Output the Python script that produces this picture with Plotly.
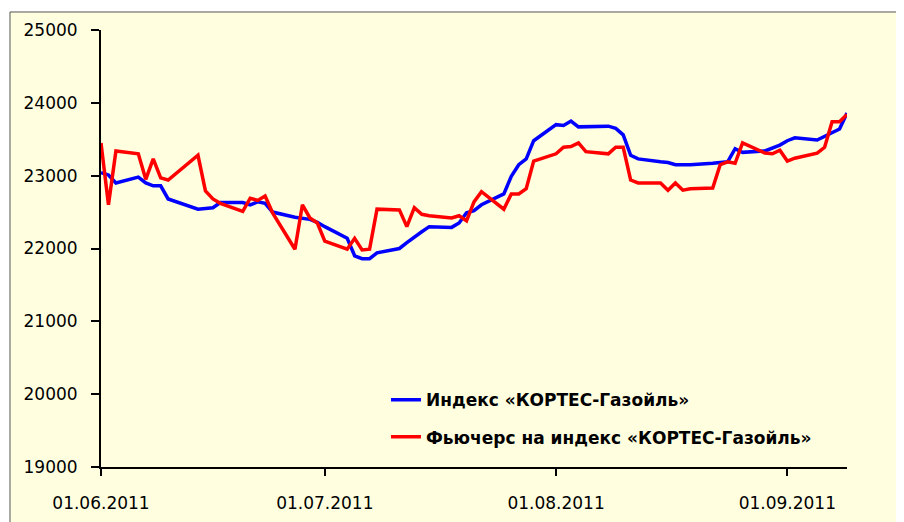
import pandas as pd
import plotly.graph_objects as go

# -------------------------
# Data
# -------------------------
dates = [
    "2011-06-01", "2011-06-02", "2011-06-03", "2011-06-06", "2011-06-07", "2011-06-08",
    "2011-06-09", "2011-06-10", "2011-06-14", "2011-06-15", "2011-06-16", "2011-06-17",
    "2011-06-20", "2011-06-21", "2011-06-22", "2011-06-23", "2011-06-24", "2011-06-27",
    "2011-06-28", "2011-06-29", "2011-06-30",
    "2011-07-01", "2011-07-04", "2011-07-05", "2011-07-06", "2011-07-07", "2011-07-08",
    "2011-07-11", "2011-07-12", "2011-07-13", "2011-07-14", "2011-07-15", "2011-07-18",
    "2011-07-19", "2011-07-20", "2011-07-21", "2011-07-22", "2011-07-25", "2011-07-26",
    "2011-07-27", "2011-07-28", "2011-07-29",
    "2011-08-01", "2011-08-02", "2011-08-03", "2011-08-04", "2011-08-05", "2011-08-08",
    "2011-08-09", "2011-08-10", "2011-08-11", "2011-08-12", "2011-08-15", "2011-08-16",
    "2011-08-17", "2011-08-18", "2011-08-19", "2011-08-22", "2011-08-23", "2011-08-24",
    "2011-08-25", "2011-08-26", "2011-08-29", "2011-08-30", "2011-08-31",
    "2011-09-01", "2011-09-02", "2011-09-05", "2011-09-06", "2011-09-07", "2011-09-08",
    "2011-09-09",
]

index_values = [
    23040, 23010, 22900, 22980, 22900, 22860, 22860, 22680, 22540, 22550, 22560, 22630,
    22630, 22600, 22640, 22620, 22500, 22430, 22420, 22400, 22360,
    22300, 22140, 21900, 21860, 21860, 21940, 22000, 22080, 22160, 22230, 22300, 22290,
    22350, 22490, 22520, 22600, 22750, 22990, 23150, 23230, 23480,
    23700, 23690, 23750, 23670, 23670, 23680, 23650, 23560, 23280, 23230, 23190, 23180,
    23150, 23150, 23150, 23170, 23180, 23190, 23370, 23320, 23340, 23380, 23420,
    23480, 23520, 23490, 23540, 23600, 23640, 23860,
]

futures_values = [
    23450, 22600, 23340, 23300, 22950, 23230, 22970, 22940, 23280, 22790, 22680, 22620,
    22510, 22690, 22660, 22720, 22490, 21990, 22600, 22420, 22350,
    22100, 21990, 22140, 21980, 21990, 22540, 22530, 22300, 22560, 22470, 22450, 22420,
    22450, 22380, 22640, 22780, 22540, 22750, 22750, 22820, 23200,
    23300, 23390, 23400, 23450, 23330, 23300, 23390, 23390, 22940, 22900, 22900, 22800,
    22900, 22800, 22820, 22830, 23150, 23190, 23170, 23450, 23310, 23300, 23350,
    23200, 23240, 23310, 23390, 23740, 23740, 23840,
]

tick_dates = ["2011-06-01", "2011-07-01", "2011-08-01", "2011-09-01"]
tick_labels = ["01.06.2011", "01.07.2011", "01.08.2011", "01.09.2011"]

series_names = ["Индекс «КОРТЕС-Газойль»", "Фьючерс на индекс «КОРТЕС-Газойль»"]

# -------------------------
# Plotting
# -------------------------
x = pd.to_datetime(dates)
bg = "#FFFFE0"
font = "DejaVu Sans"

fig = go.Figure()
fig.add_trace(go.Scatter(x=x, y=index_values, mode="lines", name=series_names[0],
                         legendgroup="a", line=dict(color="#0000FF", width=3.5)))
fig.add_trace(go.Scatter(x=x, y=futures_values, mode="lines", name=series_names[1],
                         legendgroup="b", line=dict(color="#FF0000", width=3.5)))

# chart area frame (outside the plot area)
fig.add_shape(type="rect", xref="paper", yref="paper",
              x0=-0.122, x1=1.0737, y0=-0.2, y1=1.0412,
              fillcolor=bg, line=dict(color="#555555", width=1), layer="below")

fig.update_layout(
    width=904, height=522,
    margin=dict(l=93, r=65, t=22, b=63),
    paper_bgcolor="white",
    plot_bgcolor=bg,
    font=dict(family=font, size=17, color="black"),
    showlegend=True,
    legend=dict(x=0.382, y=0.194, xanchor="left", yanchor="top",
                bgcolor="rgba(0,0,0,0)", traceorder="grouped", tracegroupgap=12,
                font=dict(family=font, size=17, color="black", weight="bold")),
    xaxis=dict(
        type="date",
        range=["2011-06-01", "2011-09-09"],
        tickvals=pd.to_datetime(tick_dates), ticktext=tick_labels,
        showgrid=False, zeroline=False,
        showline=True, linecolor="black", linewidth=2,
        ticks="outside", ticklen=7, tickwidth=2, tickcolor="black",
        ticklabelstandoff=13, automargin=False,
    ),
    yaxis=dict(
        range=[19000, 25000], dtick=1000, tick0=19000, tickformat="d",
        showgrid=False, zeroline=False,
        showline=True, linecolor="black", linewidth=2,
        ticks="outside", ticklen=8, tickwidth=2, tickcolor="black",
        ticklabelstandoff=10, automargin=False,
    ),
)

fig.write_html("out.html")
